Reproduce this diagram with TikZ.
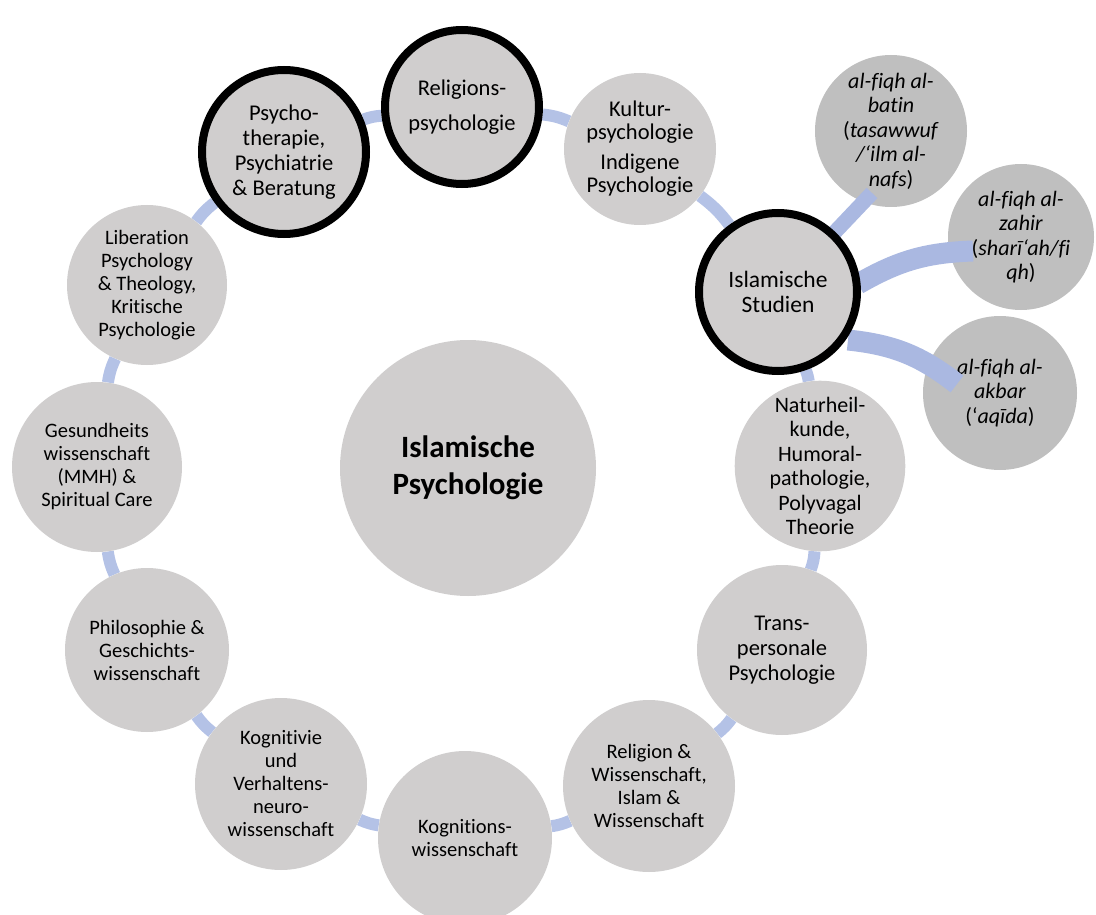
\documentclass[tikz,border=0pt]{standalone}
\usepackage{fontspec}
\setmainfont{Carlito}[Ligatures={NoCommon}]
\definecolor{ringgray}{HTML}{D0CECE}
\definecolor{satgray}{HTML}{BFBFBF}
\definecolor{ringblue}{HTML}{B4C2E6}
\definecolor{spokeblue}{HTML}{AAB8E1}
\pgfdeclarelayer{bg}
\pgfdeclarelayer{top}
\pgfsetlayers{bg,main,top}
\tikzset{
  base/.style={circle, inner sep=0pt, align=center, text=black},
  ringnode/.style={base, fill=ringgray, minimum size=#1},
  keynode/.style={base, fill=ringgray, draw=black, line width=8pt, minimum size=#1},
  satnode/.style={base, fill=satgray, minimum size=#1, font=\fontsize{22}{24.5}\selectfont},
  bigtxt/.style={font=\fontsize{22.5}{25}\selectfont},
  smalltxt/.style={font=\fontsize{20.5}{23}\selectfont},
  ringline/.style={draw=ringblue, line width=12pt},
  spoke/.style={draw=spokeblue, line width=#1},
}
\begin{document}
\begin{tikzpicture}[x=1pt,y=-1pt]
\useasboundingbox (0,0) rectangle (1096,915);
% ring nodes
\node[keynode=164, bigtxt] (psy) at (284,152) {Psycho-\\therapie,\\Psychiatrie\\\& Beratung};
\node[keynode=154, bigtxt] (rel) at (462,107) {Religions-\\[10pt]psychologie};
\node[ringnode=152, font=\fontsize{22.5}{23}\selectfont] (kul) at (640,149) {Kultur-\\psychologie\\[7pt]Indigene\\Psychologie};
\node[ringnode=158, font=\fontsize{22}{24.5}\selectfont] (nat) at (820,466) {Naturheil-\\kunde,\\Humoral-\\pathologie,\\Polyvagal\\Theorie};
\node[ringnode=170, bigtxt] (tra) at (782,650) {Trans-\\personale\\Psychologie};
\node[ringnode=172, smalltxt] (rw) at (649,786) {Religion \&\\Wissenschaft,\\Islam \&\\Wissenschaft};
\node[ringnode=174, smalltxt] (kog) at (465,838) {Kognitions-\\wissenschaft};
\node[ringnode=172, smalltxt] (kvn) at (281,784) {Kognitivie\\und\\Verhaltens-\\neuro-\\wissenschaft};
\node[ringnode=164, smalltxt] (phi) at (147,650) {Philosophie \&\\Geschichts-\\wissenschaft};
\node[ringnode=170, smalltxt] (ges) at (97,467) {Gesundheits\\wissenschaft\\(MMH) \&\\Spiritual Care};
\node[ringnode=160, smalltxt] (lib) at (147,285) {Liberation\\Psychology\\\& Theology,\\Kritische\\Psychologie};
\node[ringnode=256, font=\fontsize{31}{37}\selectfont\bfseries] (ctr) at (468,468) {Islamische\\Psychologie};
% satellites
\node[satnode=152] (bat) at (891,131) {\textit{al-fiqh al-}\\\textit{batin}\\(\textit{tasawwuf}\\\textit{/‘ilm al-}\\\textit{nafs})};
\node[satnode=146] (zah) at (1021,237) {\textit{al-fiqh al-}\\\textit{zahir}\\(\textit{sharī‘ah/fi}\\\textit{qh})};
\node[satnode=154] (akb) at (1000,393) {\textit{al-fiqh al-}\\\textit{akbar}\\(‘\textit{aqīda})};
\begin{pgfonlayer}{top}
\node[keynode=158, font=\fontsize{23.5}{25}\selectfont] (ist) at (778,292) {Islamische\\Studien};
\end{pgfonlayer}
% connectors around the ring
\begin{pgfonlayer}{bg}
\draw[ringline] (psy) to[bend left=8] (rel);
\draw[ringline] (rel) to[bend left=8] (kul);
\draw[ringline] (kul) to[bend left=8] (ist);
\draw[ringline] (ist) to[bend left=6] (nat);
\draw[ringline] (nat) to[bend left=8] (tra);
\draw[ringline] (tra) to[bend left=8] (rw);
\draw[ringline] (rw) to[bend left=8] (kog);
\draw[ringline] (kog) to[bend left=8] (kvn);
\draw[ringline] (kvn) to[bend left=8] (phi);
\draw[ringline] (phi) to[bend left=8] (ges);
\draw[ringline] (ges) to[bend left=8] (lib);
\draw[ringline] (lib) to[bend left=8] (psy);
\end{pgfonlayer}
% spokes (above satellites, below Islamische Studien)
\coordinate (batend) at (872,193);
\coordinate (zahend) at (973,251);
\coordinate (akbend) at (957,384);
\draw[spoke=15pt] (ist.center) -- (batend);
\draw[spoke=21pt] (ist.center) ++(80,-8) coordinate (zs) (zs) to[bend left=14] (zahend);
\draw[spoke=21pt] (ist.center) ++(70,48) coordinate (as) (as) to[bend left=16] (akbend);
\end{tikzpicture}
\end{document}
